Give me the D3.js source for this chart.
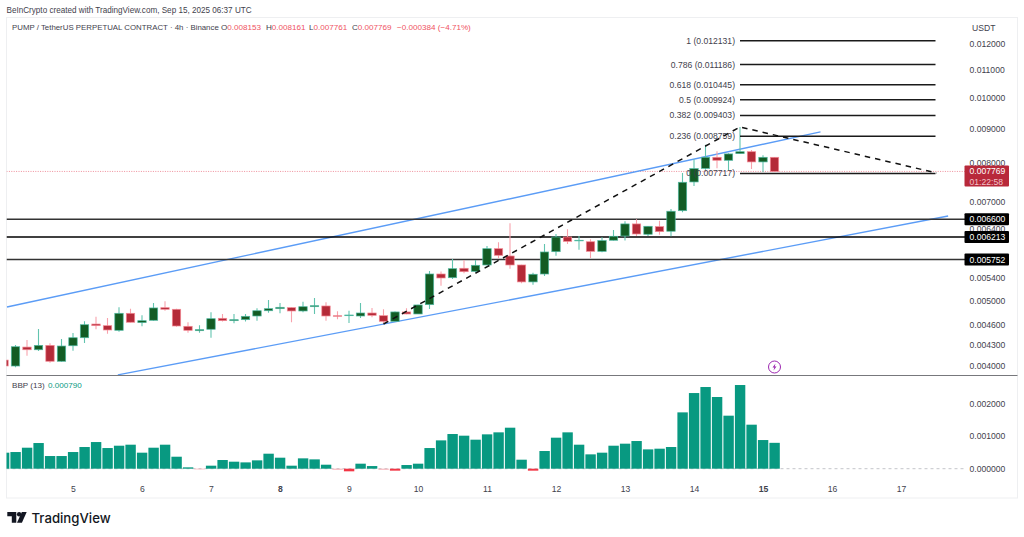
<!DOCTYPE html>
<html><head><meta charset="utf-8">
<script src="https://cdn.jsdelivr.net/npm/d3@7/dist/d3.min.js"></script>
<style>
html,body{margin:0;padding:0;background:#fff;overflow:hidden}
svg{display:block}
text{font-family:"Liberation Sans",Arial,sans-serif;font-size:8.6px;fill:#3f424d}
</style></head><body>
<svg id="c" width="1024" height="537"></svg>
<script>
// ---- data (prices in USDT, one entry per 4h bar, first bar Sep 4 00:00 UTC) ----
const startDate = "2025-09-04T00:00:00Z";
const opens = [.004082,.004000,.004267,.004228,.004292,.004065,.004286,.004405,.004616,.004590,.004518,.004788,.004638,.004675,.004881,.004854,.004580,.004512,.004534,.004707,.004669,.004685,.004744,.004830,.004864,.004881,.004826,.004897,.004909,.004749,.004749,.004744,.004793,.004749,.004659,.004810,.004777,.004931,.005475,.005406,.005583,.005525,.005646,.005969,.005822,.005646,.005329,.005475,.005908,.006212,.006136,.006112,.005915,.006143,.006233,.006495,.006270,.006435,.006335,.006795,.007495,.007851,.008153,.008070,.008255,.008310,.008025,.008153];
const highs = [.004090,.004297,.004371,.004539,.004322,.004386,.004477,.004660,.004733,.004712,.004887,.004864,.004755,.004960,.004989,.004864,.004644,.004596,.004805,.004777,.004777,.004777,.004870,.005011,.004960,.004887,.004981,.005045,.004972,.004821,.004830,.004960,.004876,.004854,.004816,.004870,.004931,.005532,.005523,.005763,.005743,.005743,.006024,.006100,.006509,.005650,.005500,.006065,.006276,.006376,.006233,.006163,.006205,.006362,.006556,.006598,.006450,.006568,.006836,.007728,.008097,.008512,.008322,.008266,.009042,.008360,.008210,.008161];
const lows = [.003995,.003982,.004143,.004210,.004045,.004060,.004214,.004326,.004534,.004466,.004496,.004638,.004580,.004669,.004830,.004574,.004481,.004481,.004405,.004654,.004627,.004654,.004669,.004798,.004788,.004644,.004805,.004777,.004669,.004691,.004632,.004712,.004723,.004627,.004655,.004772,.004775,.004859,.005260,.005383,.005488,.005512,.005640,.005777,.005575,.005306,.005278,.005438,.005828,.006065,.005949,.005782,.005895,.006136,.006136,.006233,.006233,.006260,.006226,.006759,.007393,.007813,.007851,.007788,.008247,.007835,.007757,.007761];
const closes = [.004000,.004272,.004228,.004292,.004065,.004282,.004405,.004605,.004590,.004523,.004788,.004644,.004669,.004876,.004854,.004585,.004518,.004528,.004701,.004669,.004685,.004739,.004830,.004864,.004887,.004826,.004897,.004914,.004744,.004739,.004760,.004793,.004755,.004659,.004810,.004777,.004926,.005475,.005401,.005575,.005518,.005640,.005969,.005836,.005646,.005329,.005470,.005902,.006212,.006120,.006143,.005915,.006136,.006227,.006495,.006276,.006443,.006326,.006782,.007487,.007843,.008153,.008070,.008247,.008310,.008025,.008153,.007769];
const bbp = [.000489,.000509,.000641,.000784,.000387,.000387,.000509,.000662,.000814,.000631,.000702,.000733,.000489,.000641,.000733,.000366,.000041,-.00002,.000092,.000265,.000214,.000193,.000255,.000458,.000336,.000092,.000316,.000285,.000122,-.00003,-.00008,.000153,.000081,-.00003,-.00006,.000112,.000153,.000631,.000865,.001059,.001008,.000886,.001049,.00111,.001252,.000275,-.00006,.00054,.000947,.00111,.000733,.000438,.000489,.000702,.000764,.000845,.00059,.000611,.000662,.00172,.00231,.002494,.002189,.001619,.002555,.001344,.000875,.00079];
const bbpPale = [17,29,33];
const priceTicks = [.012,.011,.010,.009,.008,.007,.0064,.0054,.005,.0046,.0043,.004];
const bbpTicks = [.002,.001,0];
const dayTicks = ["2025-09-05","2025-09-06","2025-09-07","2025-09-08","2025-09-09","2025-09-10","2025-09-11","2025-09-12","2025-09-13","2025-09-14","2025-09-15","2025-09-16","2025-09-17"];
const boldDays = [8,15];
const fibLevels = ["1","0.786","0.618","0.5","0.382","0.236","0"];
const fibPrices = [.012131,.011186,.010445,.009924,.009403,.008759,.007717];
const fibBars = [64,81];
const hLevels = [.0066,.006213,.005752];
const hLevelColors = ["#333","#000","#333"];
const channelUpper = [[0.26,.004892],[71,.00889]];
const channelLower = [[9.9,.00388],[82.1,.006674]];
const dashed = [[33,.004616],[64,.009042],[81.1,.007728]];
const lastPrice = .007769;
const countdown = "01:22:58";
const flashBar = 67;

// ---- layout ----
const svg = d3.select("#c");
const L=6.5,R=965,Rf=1017.5,T=17.5,DIV=375.5,B=498;
const x = d3.scaleUtc().domain([new Date("2025-09-05T00:00:00Z"),new Date("2025-09-17T00:00:00Z")]).range([73,901]);
const t0 = new Date(startDate);
const xi = i => x(d3.utcHour.offset(t0,i*4));
const xf = i => x(new Date(+t0+i*4*3600e3));
const y = d3.scaleLog().domain([.004,.012]).range([366,44]);
const yb = d3.scaleLinear().domain([0,.002]).range([468.7,403.2]);
const UP="#135c24",UPB="#4fb8a1",UPW="#62c4af",DN="#b42a38",DNB="#f58a95",DNW="#f8a2ac";
const fmt = d3.format(".6f");

const defs = svg.append("defs");
defs.append("clipPath").attr("id","m").append("rect").attr("x",L).attr("y",T).attr("width",R-L).attr("height",DIV-T);
defs.append("clipPath").attr("id","s").append("rect").attr("x",L).attr("y",DIV).attr("width",R-L).attr("height",B-DIV);

// header and frame
svg.append("text").attr("x",6.5).attr("y",13).style("font-size","8.15px").text("BeInCrypto created with TradingView.com, Sep 15, 2025 06:37 UTC");
svg.append("rect").attr("x",L).attr("y",T).attr("width",Rf-L).attr("height",B-T).attr("fill","none").attr("stroke","#eeeff1");

const main = svg.append("g").attr("clip-path","url(#m)");
// last price line
main.append("line").attr("x1",L).attr("x2",R).attr("y1",y(lastPrice)).attr("y2",y(lastPrice)).attr("stroke","#ee8f9b").attr("stroke-dasharray","1 1.4");
// channel
const lineGen = d3.line().x(d=>xf(d[0])).y(d=>y(d[1]));
[channelUpper,channelLower].forEach(c=>main.append("path").attr("d",lineGen(c)).attr("fill","none").attr("stroke","#5b9cf6").attr("stroke-width",1.4));
// horizontal levels
hLevels.forEach((p,i)=>main.append("line").attr("x1",L).attr("x2",R).attr("y1",y(p)).attr("y2",y(p)).attr("stroke",hLevelColors[i]).attr("stroke-width",1.5));
// candles
const idx = d3.range(opens.length);
const cg = main.append("g");
cg.selectAll("line").data(idx).join("line")
  .attr("x1",xi).attr("x2",xi).attr("y1",i=>y(highs[i])).attr("y2",i=>y(lows[i]))
  .attr("stroke",i=>closes[i]>=opens[i]?UPW:DNW).attr("stroke-width",1.1);
cg.selectAll("rect").data(idx).join("rect")
  .attr("x",i=>xi(i)-4.2).attr("width",8.4)
  .attr("y",i=>y(Math.max(opens[i],closes[i])))
  .attr("height",i=>Math.max(.6,Math.abs(y(opens[i])-y(closes[i]))))
  .attr("fill",i=>closes[i]>=opens[i]?UP:DN)
  .attr("stroke",i=>closes[i]>=opens[i]?UPB:DNB).attr("stroke-width",.7);
// fib
fibPrices.forEach((p,i)=>{
  main.append("line").attr("x1",xf(fibBars[0])).attr("x2",xf(fibBars[1])).attr("y1",y(p)).attr("y2",y(p)).attr("stroke","#1a1a1a").attr("stroke-width",1.5);
  main.append("text").attr("x",xf(fibBars[0])-5).attr("y",y(p)+3).attr("text-anchor","end").text(`${fibLevels[i]} (${fmt(p)})`);
});
// dashed
main.append("path").attr("d",lineGen(dashed)).attr("fill","none").attr("stroke","#111").attr("stroke-width",1.5).attr("stroke-dasharray","5.5 5");
// flash icon
const fx=xi(flashBar), fy=367;
main.append("circle").attr("cx",fx).attr("cy",fy).attr("r",6).attr("fill","#fff").attr("stroke","#9c27b0").attr("stroke-width",1);
main.append("path").attr("transform",`translate(${fx},${fy})`).attr("d","M1,-3.6 L-2,0.5 L-0.2,0.5 L-1,3.6 L2,-0.5 L0.2,-0.5 Z").attr("fill","#9c27b0");

// legend
svg.append("text").attr("x",12).attr("y",30).style("font-size","7.85px").text("PUMP / TetherUS PERPETUAL CONTRACT · 4h · Binance");
[["O","0.008153",221],["H","0.008161",266],["L","0.007761",309],["C","0.007769",352]].forEach(d=>{
  const t = svg.append("text").attr("x",d[2]).attr("y",30).style("font-size","8.1px");
  t.append("tspan").text(d[0]);
  t.append("tspan").style("fill","#ef5363").text(d[1]);
});
svg.append("text").attr("x",397).attr("y",30).style("font-size","8.1px").style("fill","#ef5363").text("−0.000384 (−4.71%)");
svg.append("text").attr("x",972).attr("y",31).text("USDT");

// price axis
const ax = d3.axisRight(y).tickValues(priceTicks).tickFormat(fmt).tickSize(0).tickPadding(0);
const ag = svg.append("g").attr("transform","translate(969.5,0)").call(ax);
ag.select(".domain").remove();
ag.selectAll("text").attr("dy","0.33em").style("font-size","8.6px");

// price tags
function tag(p,bg,h){
  const yy=y(p);
  svg.append("rect").attr("x",964.5).attr("y",yy-6).attr("width",44.5).attr("height",h).attr("rx",1).attr("fill",bg);
  svg.append("text").attr("x",969.5).attr("y",yy+3).style("fill","#fff").style("font-size","8.6px").text(fmt(p));
}
tag(hLevels[0],"#000",12);
tag(hLevels[1],"#000",12);
tag(hLevels[2],"#000",12);
tag(lastPrice,"#b8293a",21);
svg.append("text").attr("x",969.5).attr("y",y(lastPrice)+13.5).style("fill","#f2c3c8").style("font-size","8.6px").text(countdown);

// divider
svg.append("line").attr("x1",L).attr("x2",Rf).attr("y1",DIV).attr("y2",DIV).attr("stroke","#77787c").attr("stroke-width",1);

// BBP panel
const sub = svg.append("g").attr("clip-path","url(#s)");
sub.append("line").attr("x1",L).attr("x2",R).attr("y1",yb(0)).attr("y2",yb(0)).attr("stroke","#c4c6cb").attr("stroke-dasharray","3 3");
sub.selectAll("rect").data(idx).join("rect")
  .attr("x",i=>xi(i)-5.1).attr("width",10.4)
  .attr("y",i=>yb(Math.max(0,bbp[i])))
  .attr("height",i=>Math.abs(yb(bbp[i])-yb(0)))
  .attr("fill",i=>bbp[i]>=0?"#089981":(bbpPale.includes(i)?"#f7a9b0":"#f23645"));
svg.append("text").attr("x",12).attr("y",388).style("font-size","8.1px").text("BBP (13)");
svg.append("text").attr("x",48).attr("y",388).style("font-size","8.1px").style("fill","#089981").text(fmt(bbp[bbp.length-1]));
const ab = d3.axisRight(yb).tickValues(bbpTicks).tickFormat(fmt).tickSize(0).tickPadding(0);
const abg = svg.append("g").attr("transform","translate(969.5,0)").call(ab);
abg.select(".domain").remove();
abg.selectAll("text").attr("dy","0.33em").style("font-size","8.6px");

// time axis
const axb = d3.axisBottom(x).tickValues(dayTicks.map(d=>new Date(d+"T00:00:00Z"))).tickFormat(d3.utcFormat("%-d")).tickSize(0).tickPadding(0);
const xg = svg.append("g").attr("transform","translate(0,486)").call(axb);
xg.select(".domain").remove();
xg.selectAll("text").attr("dy","0.71em").style("font-size","8.6px").style("font-weight",d=>boldDays.includes(d.getUTCDate())?"bold":"normal");

// logo
const logo = svg.append("g").attr("transform","translate(7.3,512)").attr("fill","#131722");
logo.append("path").attr("d","M0,0 H9 V10.7 H4.5 V4.3 H0 Z");
logo.append("circle").attr("cx",11.8).attr("cy",2.2).attr("r",2.2);
logo.append("path").attr("d","M14.5,0 H19.4 L14.6,10.7 H9.7 Z");
svg.append("text").attr("x",31.5).attr("y",522.5).style("font-size","13.2px").style("font-weight","500").style("font-family","Inter,Roboto,sans-serif").style("fill","#131722").text("TradingView");
</script>
</body></html>
